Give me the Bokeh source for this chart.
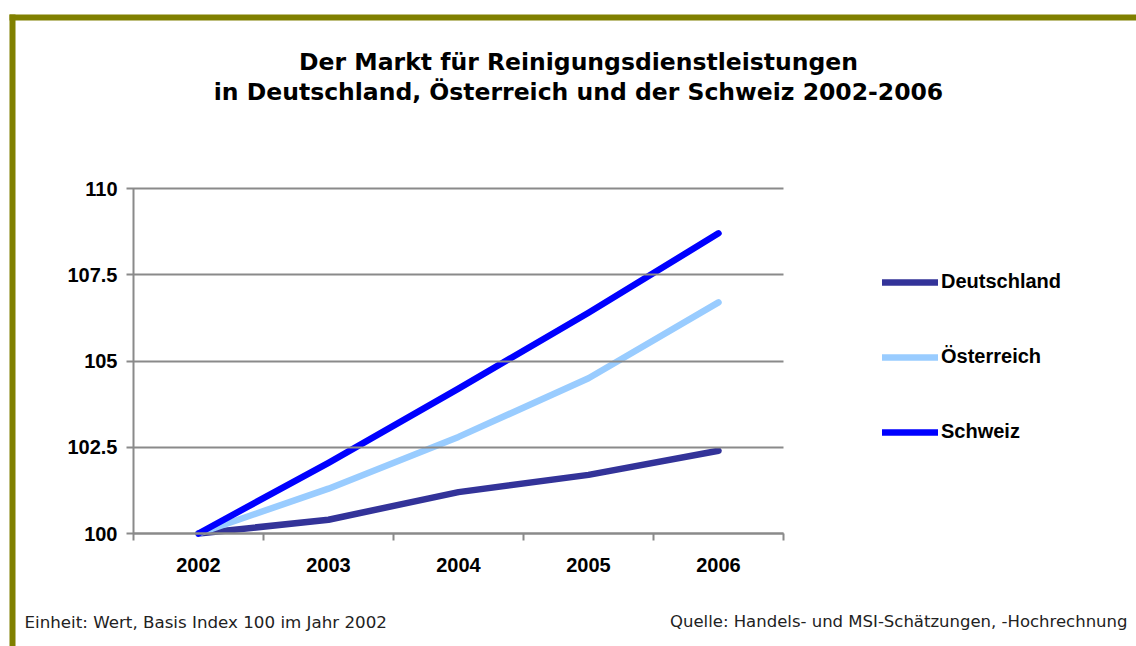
from bokeh.plotting import figure
from bokeh.models import (Range1d, FixedTicker, Legend, LegendItem, Label, BoxAnnotation)
from bokeh.embed import file_html
from bokeh.resources import INLINE

# ---- data ----
years = ["2002", "2003", "2004", "2005", "2006"]
deutschland = [100.0, 100.4, 101.2, 101.7, 102.4]
oesterreich = [100.0, 101.3, 102.8, 104.5, 106.7]
schweiz = [100.0, 102.05, 104.2, 106.4, 108.7]
series_names = ["Deutschland", "Österreich", "Schweiz"]
series_colors = ["#333399", "#99CCFF", "#0000FF"]
ytick_values = [100, 102.5, 105, 107.5, 110]
ytick_labels = ["100", "102.5", "105", "107.5", "110"]
title_lines = ["Der Markt für Reinigungsdienstleistungen",
               "in Deutschland, Österreich und der Schweiz 2002-2006"]
note_left = "Einheit: Wert, Basis Index 100 im Jahr 2002"
note_right = "Quelle: Handels- und MSI-Schätzungen, -Hochrechnung"

xpos = [i + 0.5 for i in range(len(years))]

# ---- layout (pixels) ----
W, H = 1136, 646
PL, PR, PT, PB = 133, 783, 188, 533          # plot area in canvas pixels
ymin, ymax = ytick_values[0], ytick_values[-1]
xppu = (PR - PL) / len(years)
yppu = (PB - PT) / (ymax - ymin)

x_range = Range1d(-PL / xppu, (W - PL) / xppu)
y_range = Range1d(ymin - (H - PB) / yppu, ymin + PB / yppu)

p = figure(width=W, height=H, output_backend="svg", toolbar_location=None,
           x_range=x_range, y_range=y_range,
           min_border=0, min_border_left=0, min_border_right=0,
           min_border_top=0, min_border_bottom=0)
p.outline_line_color = None
p.background_fill_color = "white"
p.border_fill_color = "white"

GRAY = "#8a8a8a"

# x axis
xa = p.xaxis[0]
xa.fixed_location = ymin
xa.bounds = (0, len(years))
xa.ticker = FixedTicker(ticks=xpos, minor_ticks=list(range(len(years) + 1)))
xa.major_label_overrides = {x: y for x, y in zip(xpos, years)}
xa.major_tick_out = 0
xa.major_tick_in = 0
xa.minor_tick_out = 7
xa.minor_tick_in = 0
xa.minor_tick_line_color = GRAY
xa.minor_tick_line_width = 2
xa.axis_line_color = GRAY
xa.axis_line_width = 2
xa.major_label_text_font = "Liberation Sans"
xa.major_label_text_font_style = "bold"
xa.major_label_text_font_size = "20px"
xa.major_label_text_color = "black"
xa.major_label_standoff = 17

# y axis (inner ticks double as horizontal grid lines)
ya = p.yaxis[0]
ya.fixed_location = 0
ya.bounds = (ymin, ymax)
ya.ticker = FixedTicker(ticks=ytick_values, minor_ticks=[])
ya.major_label_overrides = {v: s for v, s in zip(ytick_values, ytick_labels)}
ya.major_tick_out = 7
ya.major_tick_in = PR - PL
ya.major_tick_line_color = GRAY
ya.major_tick_line_width = 2
ya.axis_line_color = GRAY
ya.axis_line_width = 2
ya.major_label_text_font = "Liberation Sans"
ya.major_label_text_font_style = "bold"
ya.major_label_text_font_size = "20px"
ya.major_label_text_color = "black"
ya.major_label_standoff = 9

p.xgrid.visible = False
p.ygrid.visible = False

renderers = []
for vals, color in zip([deutschland, oesterreich, schweiz], series_colors):
    r = p.line(xpos, vals, line_color=color, line_width=6.5, line_cap="round",
               line_join="round")
    renderers.append(r)

legend = Legend(items=[LegendItem(label=n, renderers=[r]) for n, r in zip(series_names, renderers)],
                location=(882, H - 443), orientation="vertical",
                label_text_font="Liberation Sans", label_text_font_style="bold",
                label_text_font_size="20px", label_text_color="black",
                glyph_width=56, glyph_height=20, label_height=20, spacing=52,
                padding=0, margin=0, label_standoff=3,
                border_line_color=None, background_fill_alpha=0)
p.add_layout(legend)

# title (screen units: x from left, y up from bottom)
for i, t in enumerate(title_lines):
    p.add_layout(Label(x=578, y=H - 68 + 7 - 30 * i, x_units="screen", y_units="screen",
                       text=t, text_align="center", text_baseline="alphabetic",
                       text_font="DejaVu Sans", text_font_style="bold",
                       text_font_size="23.5px", text_color="black"))

# footer notes
p.add_layout(Label(x=24, y=H - 627 + 6, x_units="screen", y_units="screen", text=note_left,
                   text_align="left", text_baseline="alphabetic",
                   text_font="DejaVu Sans", text_font_size="16.7px", text_color="#222222"))
p.add_layout(Label(x=1127, y=H - 627 + 6, x_units="screen", y_units="screen", text=note_right,
                   text_align="right", text_baseline="alphabetic",
                   text_font="DejaVu Sans", text_font_size="16.5px", text_color="#222222"))

# olive frame lines (top and left)
OLIVE = "#808000"
p.add_layout(BoxAnnotation(left=9, right=W + 10, bottom=H - 20, top=H - 14,
                           left_units="screen", right_units="screen",
                           bottom_units="screen", top_units="screen",
                           fill_color=OLIVE, fill_alpha=1, line_color=None))
p.add_layout(BoxAnnotation(left=9, right=15, bottom=-10, top=H - 14,
                           left_units="screen", right_units="screen",
                           bottom_units="screen", top_units="screen",
                           fill_color=OLIVE, fill_alpha=1, line_color=None))

open("out.html", "w").write(file_html(p, INLINE))
